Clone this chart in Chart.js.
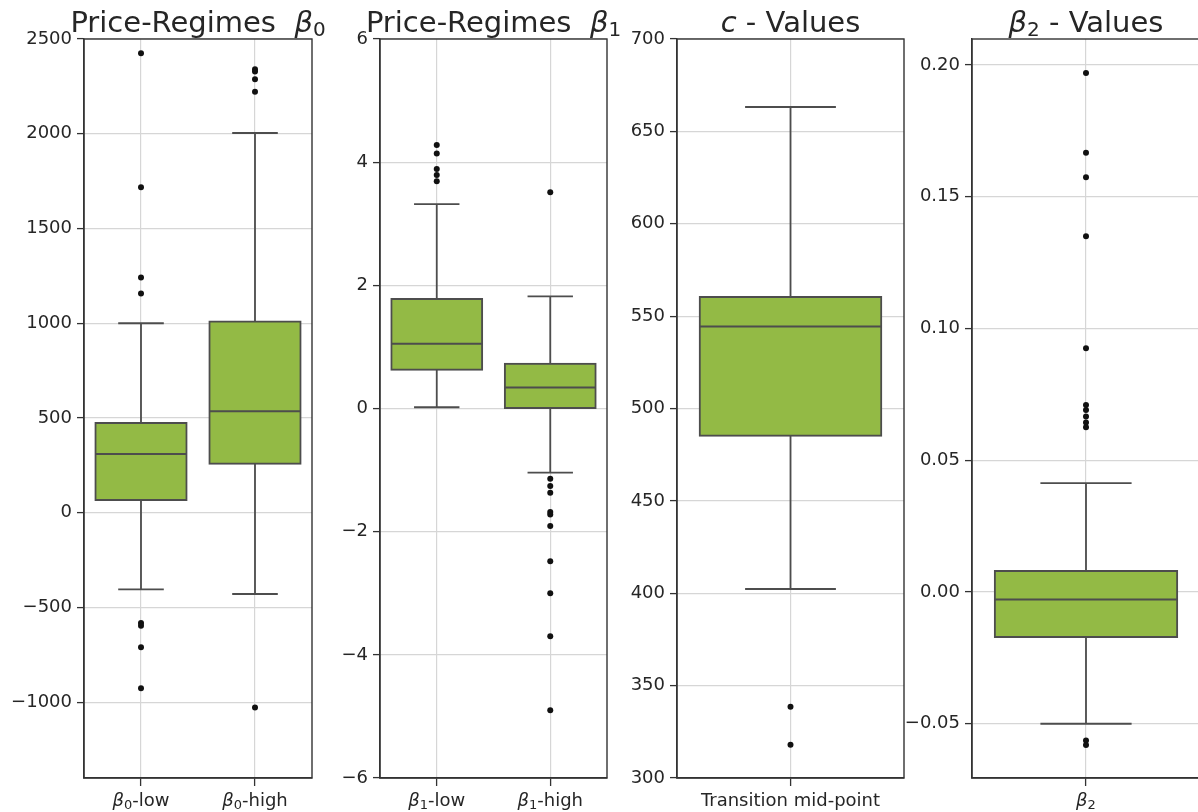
<!DOCTYPE html>
<html>
<head>
<meta charset="utf-8">
<script src="https://cdn.jsdelivr.net/npm/chart.js@4.4.1/dist/chart.umd.min.js"></script>
<style>
  html, body { margin: 0; padding: 0; overflow: hidden; background: #fff; width: 1198px; height: 812px; }
  canvas { position: absolute; left: 0; top: 0; }
</style>
</head>
<body>
<canvas id="panelB0" width="1210" height="812"></canvas>
<canvas id="panelB1" width="1210" height="812"></canvas>
<canvas id="panelC" width="1210" height="812"></canvas>
<canvas id="panelB2" width="1210" height="812"></canvas>
<script>
// ---- Price-regime intercepts (beta_0) ----
const b0Categories = ['$β_0$-low', '$β_0$-high'];
const b0Q1 = [67, 258];
const b0Median = [310, 536];
const b0Q3 = [473, 1009];
const b0WhiskerLow = [-405, -429];
const b0WhiskerHigh = [1000, 2004];
const b0OutliersLow = [2425, 1718, 1241, 1157, -582, -596, -710, -927];
const b0OutliersHigh = [2340, 2328, 2287, 2222, -1028];
const b0Ticks = [-1000, -500, 0, 500, 1000, 1500, 2000, 2500];

// ---- Price-regime slopes (beta_1) ----
const b1Categories = ['$β_1$-low', '$β_1$-high'];
const b1Q1 = [0.63, 0.0];
const b1Median = [1.05, 0.34];
const b1Q3 = [1.78, 0.725];
const b1WhiskerLow = [0.02, -1.04];
const b1WhiskerHigh = [3.32, 1.82];
const b1OutliersLow = [4.28, 4.14, 3.89, 3.79, 3.69];
const b1OutliersHigh = [3.51, -1.14, -1.26, -1.37, -1.68, -1.72, -1.91, -2.48, -3.00, -3.70, -4.90];
const b1Ticks = [-6, -4, -2, 0, 2, 4, 6];

// ---- Transition mid-point (c) ----
const cCategories = ['Transition mid-point'];
const cQ1 = [485.3];
const cMedian = [544.4];
const cQ3 = [560.4];
const cWhiskerLow = [402.3];
const cWhiskerHigh = [663.2];
const cOutliers = [338.6, 318.0];
const cTicks = [300, 350, 400, 450, 500, 550, 600, 650, 700];

// ---- beta_2 ----
const b2Categories = ['$β_2$'];
const b2Q1 = [-0.0171];
const b2Median = [-0.0028];
const b2Q3 = [0.0080];
const b2WhiskerLow = [-0.0500];
const b2WhiskerHigh = [0.0413];
const b2Outliers = [0.1970, 0.1667, 0.1574, 0.1350, 0.0925, 0.0710, 0.0691, 0.0666, 0.0643, 0.0625, -0.0564, -0.0581];
const b2Ticks = [-0.05, 0.00, 0.05, 0.10, 0.15, 0.20];

// ---- styling ----
const FONT = 'DejaVu Sans';
const TEXT = '#262626';
const GREEN = '#93BA45';
const EDGE = '#4d4d4d';
const GRID = '#d6d6d6';
const AXIS = '#333333';

const panels = [
  { id: 'panelB0', title: 'Price-Regimes  $β_0$', categories: b0Categories,
    q1: b0Q1, median: b0Median, q3: b0Q3, lo: b0WhiskerLow, hi: b0WhiskerHigh,
    outliers: [b0OutliersLow, b0OutliersHigh], ticks: b0Ticks, yMin: -1400, yMax: 2500, decimals: 0,
    left: 84, right: 312 },
  { id: 'panelB1', title: 'Price-Regimes  $β_1$', categories: b1Categories,
    q1: b1Q1, median: b1Median, q3: b1Q3, lo: b1WhiskerLow, hi: b1WhiskerHigh,
    outliers: [b1OutliersLow, b1OutliersHigh], ticks: b1Ticks, yMin: -6, yMax: 6, decimals: 0,
    left: 380, right: 607 },
  { id: 'panelC', title: '$c$ - Values', categories: cCategories,
    q1: cQ1, median: cMedian, q3: cQ3, lo: cWhiskerLow, hi: cWhiskerHigh,
    outliers: [cOutliers], ticks: cTicks, yMin: 300, yMax: 700, decimals: 0,
    left: 677, right: 904 },
  { id: 'panelB2', title: '$β_2$ - Values', categories: b2Categories,
    q1: b2Q1, median: b2Median, q3: b2Q3, lo: b2WhiskerLow, hi: b2WhiskerHigh,
    outliers: [b2Outliers], ticks: b2Ticks, yMin: -0.0706, yMax: 0.2099, decimals: 2,
    left: 972, right: 1200 }
];

const panelById = new Map(panels.map(p => [p.id, p]));

function fmt(v, d) {
  const s = Math.abs(v).toFixed(d);
  return (v < 0 ? '\u2212' : '') + s;
}

// Split "$β_0$-low" style strings into plain / italic / subscript runs.
function parseRich(str) {
  const out = [];
  let math = false;
  for (let i = 0; i < str.length; i++) {
    const ch = str[i];
    if (ch === '$') { math = !math; continue; }
    if (math && ch === '_') { out.push({ text: str[i + 1], italic: false, sub: true }); i++; continue; }
    const italic = math && /[A-Za-zα-ω]/.test(ch);
    const last = out[out.length - 1];
    if (last && !last.sub && last.italic === italic) last.text += ch;
    else out.push({ text: ch, italic, sub: false });
  }
  return out;
}

function drawRich(ctx, str, cx, baseline, size) {
  const segs = parseRich(str);
  const fontFor = s => `${s.italic ? 'italic ' : ''}${s.sub ? Math.round(size * 0.7) : size}px "${FONT}"`;
  let total = 0;
  segs.forEach(s => { ctx.font = fontFor(s); s.w = ctx.measureText(s.text).width; total += s.w; });
  let x = cx - total / 2;
  ctx.textAlign = 'left';
  ctx.textBaseline = 'alphabetic';
  ctx.fillStyle = TEXT;
  segs.forEach(s => {
    ctx.font = fontFor(s);
    ctx.fillText(s.text, x, baseline + (s.sub ? size * 0.15 : 0));
    x += s.w;
  });
}

// Whiskers, caps, medians, frame, category labels and panel title.
const boxDetails = {
  id: 'boxDetails',
  beforeDatasetsDraw(chart) {
    const p = panelById.get(chart.canvas.id);
    const ctx = chart.ctx, xs = chart.scales.x, ys = chart.scales.y;
    const bars = chart.getDatasetMeta(0).data;
    ctx.save();
    ctx.strokeStyle = EDGE;
    ctx.lineWidth = 1.8;
    p.categories.forEach((c, i) => {
      const cx = xs.getPixelForValue(i);
      const half = bars[i].width / 4;
      const yq1 = ys.getPixelForValue(p.q1[i]);
      const yq3 = ys.getPixelForValue(p.q3[i]);
      const ylo = ys.getPixelForValue(p.lo[i]);
      const yhi = ys.getPixelForValue(p.hi[i]);
      ctx.beginPath();
      ctx.moveTo(cx, yq3); ctx.lineTo(cx, yhi);
      ctx.moveTo(cx, yq1); ctx.lineTo(cx, ylo);
      ctx.moveTo(cx - half, yhi); ctx.lineTo(cx + half, yhi);
      ctx.moveTo(cx - half, ylo); ctx.lineTo(cx + half, ylo);
      ctx.stroke();
    });
    ctx.restore();
  },
  afterDatasetsDraw(chart) {
    const p = panelById.get(chart.canvas.id);
    const ctx = chart.ctx, xs = chart.scales.x, ys = chart.scales.y;
    const bars = chart.getDatasetMeta(0).data;
    ctx.save();
    ctx.strokeStyle = EDGE;
    ctx.lineWidth = 2;
    p.categories.forEach((c, i) => {
      const cx = xs.getPixelForValue(i);
      const half = bars[i].width / 2;
      const ym = ys.getPixelForValue(p.median[i]);
      ctx.beginPath();
      ctx.moveTo(cx - half, ym); ctx.lineTo(cx + half, ym);
      ctx.stroke();
    });
    ctx.restore();
  },
  afterDraw(chart) {
    const p = panelById.get(chart.canvas.id);
    const ctx = chart.ctx, a = chart.chartArea, xs = chart.scales.x;
    ctx.save();
    ctx.strokeStyle = AXIS;
    ctx.lineWidth = 1.4;
    ctx.strokeRect(a.left, a.top, a.right - a.left, a.bottom - a.top);
    p.categories.forEach((c, i) => drawRich(ctx, c, xs.getPixelForValue(i), 806, 18));
    drawRich(ctx, p.title, (a.left + a.right) / 2, 31.5, 29);
    ctx.restore();
  }
};

function makeChart(p) {
  const outlierPoints = [];
  p.outliers.forEach((arr, i) => arr.forEach(v => outlierPoints.push({ x: p.categories[i], y: v })));
  return new Chart(document.getElementById(p.id), {
    type: 'bar',
    data: {
      labels: p.categories,
      datasets: [
        {
          type: 'bar',
          data: p.q1.map((v, i) => [v, p.q3[i]]),
          backgroundColor: GREEN,
          borderColor: EDGE,
          borderWidth: 2,
          borderSkipped: false,
          inflateAmount: 1,
          barPercentage: 0.8,
          categoryPercentage: 1,
          order: 2
        },
        {
          type: 'scatter',
          data: outlierPoints,
          pointRadius: 3,
          pointBackgroundColor: '#111',
          pointBorderWidth: 0,
          order: 1
        }
      ]
    },
    options: {
      responsive: false,
      animation: false,
      devicePixelRatio: 1,
      layout: { padding: { left: p.left - 80, right: 1210 - p.right, top: 39, bottom: 0 } },
      plugins: { legend: { display: false }, tooltip: { enabled: false }, title: { display: false } },
      scales: {
        x: {
          type: 'category',
          offset: true,
          grid: { offset: false, color: GRID, lineWidth: 1.2, drawTicks: true, tickLength: 8, tickColor: AXIS, tickWidth: 1.3 },
          border: { display: true, color: AXIS, width: 1.4 },
          ticks: { display: false },
          afterFit: s => { s.height = 34; }
        },
        y: {
          type: 'linear',
          min: p.yMin,
          max: p.yMax,
          afterBuildTicks: s => { s.ticks = p.ticks.map(v => ({ value: v })); },
          ticks: {
            color: TEXT,
            font: { family: FONT, size: 18 },
            padding: 5,
            autoSkip: false,
            callback: v => fmt(v, p.decimals)
          },
          grid: { color: GRID, lineWidth: 1.2, drawTicks: true, tickLength: 7, tickColor: AXIS, tickWidth: 1.3 },
          border: { display: true, color: AXIS, width: 1.4 },
          afterFit: s => { s.width = 80; }
        }
      }
    },
    plugins: [boxDetails]
  });
}

panels.forEach(makeChart);
</script>
</body>
</html>
